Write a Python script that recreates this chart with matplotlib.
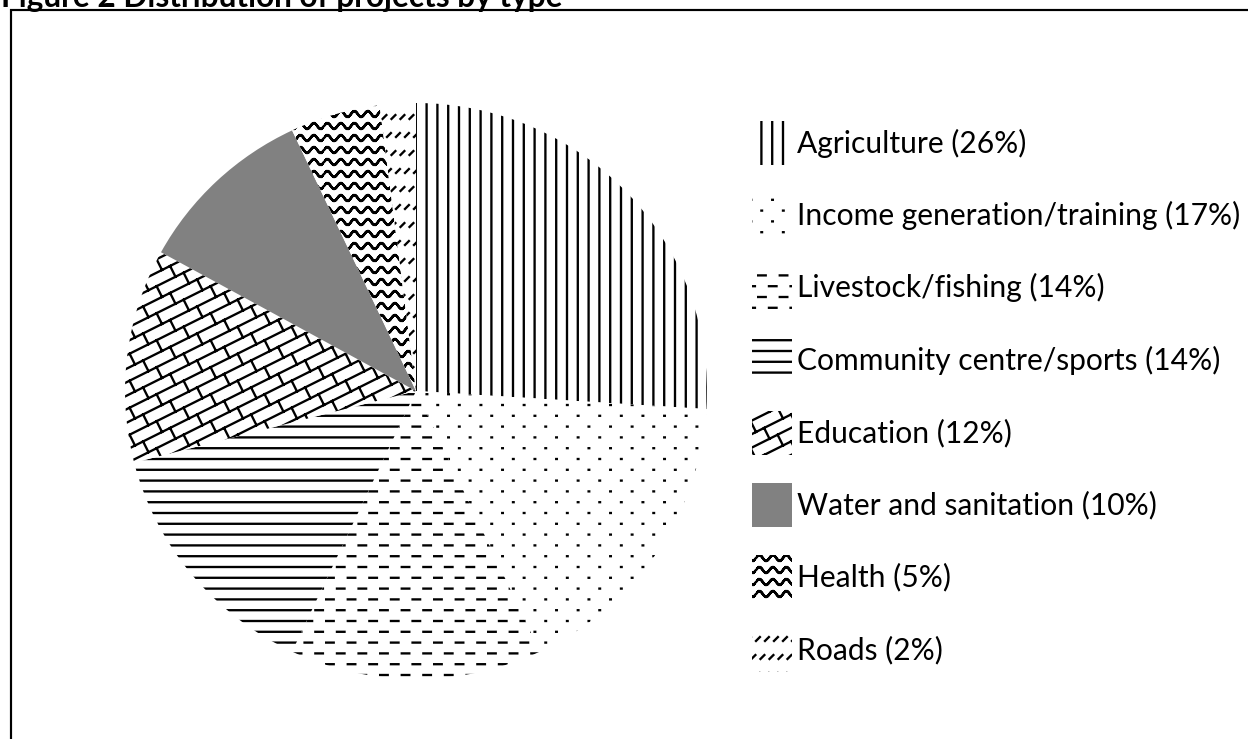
import warnings
warnings.filterwarnings('ignore')
import numpy as np
import matplotlib
matplotlib.use('Agg')
import matplotlib.pyplot as plt
import matplotlib.hatch as mhatch
from matplotlib.path import Path
from matplotlib.patches import Rectangle

# ---------------- data ----------------
title = 'Figure 2 Distribution of projects by type'
categories = ['Agriculture', 'Income generation/training', 'Livestock/fishing',
              'Community centre/sports', 'Education', 'Water and sanitation',
              'Health', 'Roads']
shares = [26, 17, 14, 14, 12, 10, 5, 2]

# ---------------- styles ----------------
hatches = ['a', 'i', 'l', 'c', 'e', '', 'h', 'r']
faces = ['white', 'white', 'white', 'white', 'white', '#818181', 'white', 'white']

DPI = 108
plt.rcParams['font.family'] = ['Lato', 'DejaVu Sans']
plt.rcParams['hatch.linewidth'] = 1.55
plt.rcParams['hatch.color'] = 'black'


# ---------------- custom hatch patterns (unit tile) ----------------
def seg_vertical():
    n = 10
    return [((k + 0.5) / n, -0.05, (k + 0.5) / n, 1.05) for k in range(n)]


def seg_horizontal():
    n = 10
    return [(-0.05, (k + 0.5) / n, 1.05, (k + 0.5) / n) for k in range(n)]


def seg_dots():
    rows, cols = 10, 5
    s = []
    for r in range(rows):
        y = (r + 0.5) / rows
        for j in range(-1, cols + 1):
            x = (j + 0.5 * (r % 2) + 0.25) / cols
            s.append((x, y, x + 0.006, y))
    return s


def seg_dashes():
    rows, cols = 10, 5
    s = []
    for r in range(rows):
        y = (r + 0.5) / rows
        for j in range(-1, cols + 1):
            x = (j + 0.5 * (r % 2)) / cols + 0.02
            s.append((x, y, x + 0.07, y))
    return s


def seg_bricks():
    n, m = 8, 4
    s = []
    for k in range(-n, n + 1):
        c = k / n
        s.append((-0.1, c - 0.05, 1.1, c + 0.55))
        phi = (k * 0.5 / m) % (1.0 / m)
        for j in range(-2, m + 2):
            x0 = j / m + phi
            y0 = x0 / 2 + c
            s.append((x0, y0, x0 - 0.4 / n, y0 + 0.8 / n))
    return [q for q in s if max(q[1], q[3]) > -0.1 and min(q[1], q[3]) < 1.1]


def seg_waves():
    rows, per = 9, 8
    amp = 0.026
    xs = np.linspace(0, 1, per * 16 + 1)
    s = []
    for r in range(rows):
        ys = (r + 0.5) / rows + amp * np.sin(2 * np.pi * per * xs)
        for i in range(len(xs) - 1):
            s.append((xs[i], ys[i], xs[i + 1], ys[i + 1]))
    return s


def seg_roads():
    rows, cols = 6, 12
    s = []
    for r in range(rows):
        y = (r + 0.5) / rows
        for j in range(-1, cols + 1):
            x = (j + 0.5 * (r % 2)) / cols
            s.append((x, y - 0.018, x + 0.036, y + 0.018))
    return s


def register(char, fn):
    segs = np.asarray(fn(), float)

    class _Hatch(mhatch.HatchPatternBase):
        def __init__(self, hatch, density):
            self.num_vertices = 2 * len(segs) if (hatch and char in hatch) else 0

        def set_vertices_and_codes(self, vertices, codes):
            vertices[:] = segs.reshape(-1, 2)
            codes[0::2] = Path.MOVETO
            codes[1::2] = Path.LINETO

    mhatch._hatch_types.append(_Hatch)


for ch, fn in [('a', seg_vertical), ('i', seg_dots), ('l', seg_dashes),
               ('c', seg_horizontal), ('e', seg_bricks), ('h', seg_waves),
               ('r', seg_roads)]:
    register(ch, fn)

# ---------------- figure ----------------
W, H = 1248, 739
fig = plt.figure(figsize=((W + 0.01) / DPI, (H + 0.01) / DPI), dpi=DPI)
fig.patch.set_facecolor('white')

# pie axes (pixel box around the slightly elliptical pie)
cx, cy, rx, ry = 416, 391, 291, 288
ax = fig.add_axes([(cx - rx) / W, (H - cy - ry) / H, 2 * rx / W, 2 * ry / H])
wedges, _ = ax.pie(shares, startangle=90, counterclock=False, colors=faces,
                   hatch=hatches,
                   wedgeprops=dict(linewidth=0, edgecolor='black'))
ax.set_xlim(-1, 1)
ax.set_ylim(-1, 1)
ax.set_aspect('auto')
ax.axis('off')

# overlay axes in pixel coordinates
ov = fig.add_axes([0, 0, 1, 1], zorder=-1)
ov.set_xlim(0, W)
ov.set_ylim(H, 0)
ov.axis('off')

# frame (top and left edges visible)
ov.plot([11, 11, W + 5], [H + 5, 10.5, 10.5], color='black', lw=1.45,
        solid_joinstyle='miter')

# title (cut at the top)
ov.text(1, 6.5, title, fontsize=21, fontweight='bold', ha='left', va='baseline')

# legend
y_first, y_step = 143, 72.4
for i, (cat, val) in enumerate(zip(categories, shares)):
    yc = y_first + i * y_step
    ov.add_patch(Rectangle((752, yc - 22), 40, 44, facecolor=faces[i],
                           edgecolor='black', linewidth=0, hatch=hatches[i]))
    ov.text(797, yc, f'{cat} ({val}%)', fontsize=20, ha='left', va='center')

fig.savefig('out.png', dpi=DPI, facecolor='white')
